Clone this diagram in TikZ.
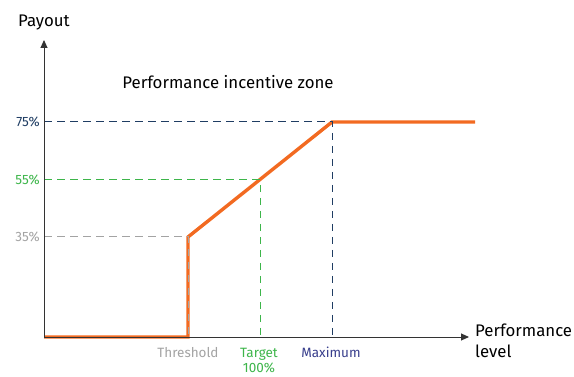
\documentclass[tikz,border=0pt]{standalone}
\usepackage{fontspec}
\setmainfont{Fira Sans}
\usetikzlibrary{arrows.meta}
\definecolor{payorange}{HTML}{F26A21}
\definecolor{navy}{HTML}{1F3D63}
\definecolor{lvlgreen}{HTML}{3DB54A}
\definecolor{lvlgrey}{HTML}{A3A3A3}
\definecolor{maxblue}{HTML}{383E8C}
\tikzset{
  axis/.style={draw=black!80, line width=0.9pt, -{Triangle[length=8pt,width=7pt]}},
  guide/.style={dashed, dash pattern=on 7.5pt off 5.5pt, line width=1pt},
  curve/.style={draw=payorange, line width=3.4pt, line join=miter},
  lbl/.style={font=\fontsize{13.5}{15}\selectfont, inner sep=0pt},
  title/.style={font=\fontsize{16.8}{18}\selectfont, inner sep=0pt}
}
\begin{document}
\begin{tikzpicture}[x=1pt,y=-1pt]
\useasboundingbox (0,0) rectangle (574,377);
% key points
\coordinate (O) at (44,337);
\coordinate (ytip) at (44,40);
\coordinate (xtip) at (469,337);
\coordinate (th0) at (188,337);
\coordinate (th) at (188,237);
\coordinate (tg) at (260,180);
\coordinate (tg0) at (260,337);
\coordinate (mx) at (332,122);
\coordinate (mx0) at (332,337);
\coordinate (end) at (475,122);
\coordinate (y75) at (44,122);
\coordinate (y55) at (44,180);
\coordinate (y35) at (44,237);
% payout curve
\draw[curve] (O) -- (th0) -- (th) -- (mx) -- (end);
% guides
\draw[guide, navy] (y75) -- (mx) -- (mx0);
\draw[guide, lvlgreen] (y55) -- (tg) -- (tg0);
\draw[guide, lvlgrey] (y35) -- (th) -- (th0);
% axes
\draw[axis] (O) -- (ytip);
\draw[axis] (O) -- (xtip);
% labels
\node[title, anchor=base west] (payout) at (18,27) {Payout};
\node[title, anchor=base] (zone) at (228,89) {Performance incentive zone};
\node[title, anchor=base west, align=left] (perf) at (475,337) {Performance};
\node[title, anchor=base west] (level) at (475,358) {level};
\node[lbl, navy, anchor=east] (p75) at (40,122) {75\%};
\node[lbl, lvlgreen, anchor=east] (p55) at (40,180) {55\%};
\node[lbl, lvlgrey, anchor=east] (p35) at (40,237) {35\%};
\node[lbl, lvlgrey, anchor=base] (thr) at (188,358) {Threshold};
\node[lbl, lvlgreen, anchor=base] (tgt) at (259,358) {Target};
\node[lbl, lvlgreen, anchor=base] (tgt2) at (259,373) {100\%};
\node[lbl, maxblue, anchor=base] (mxl) at (331,358) {Maximum};
\end{tikzpicture}
\end{document}
